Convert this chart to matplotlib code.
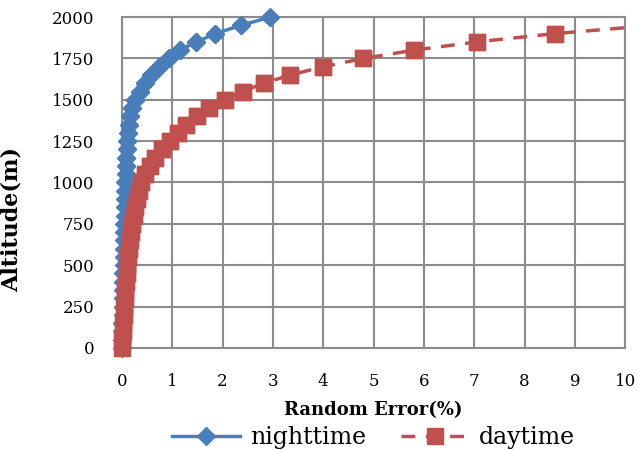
import numpy as np
import matplotlib
matplotlib.use("Agg")
import matplotlib.pyplot as plt

altitude = np.arange(0, 2001, 50)

night_error = [0.0, 0.005, 0.01, 0.01, 0.015, 0.02, 0.02, 0.025, 0.03, 0.03,
               0.035, 0.04, 0.04, 0.045, 0.05, 0.05, 0.055, 0.06, 0.065, 0.07,
               0.07, 0.08, 0.085, 0.09, 0.10, 0.11, 0.13, 0.15, 0.17, 0.21,
               0.27, 0.36, 0.45, 0.58, 0.73, 0.93, 1.15, 1.48, 1.86, 2.36,
               2.95]
day_error = [0.0, 0.01, 0.02, 0.03, 0.04, 0.05, 0.06, 0.07, 0.08, 0.10,
             0.11, 0.13, 0.14, 0.16, 0.18, 0.21, 0.24, 0.27, 0.30, 0.34,
             0.38, 0.45, 0.55, 0.66, 0.79, 0.95, 1.11, 1.28, 1.49, 1.74,
             2.04, 2.40, 2.82, 3.35, 4.00, 4.80, 5.80, 7.05, 8.60, 10.55,
             13.0]

plt.rcParams["font.family"] = ["DejaVu Serif"]

BLUE = "#4A7EBB"
RED = "#C0504D"

fig = plt.figure(figsize=(6.38, 4.5), dpi=100)
ax = fig.add_axes([0.191, 0.227, 0.789, 0.735])

ax.plot(night_error, altitude, color=BLUE, lw=2.5, marker="D",
        ms=9, mec=BLUE, label="nighttime", zorder=3)
ax.plot(day_error, altitude, color=RED, lw=2.5, ls=(0, (4, 3)),
        marker="s", ms=11, mec=RED, label="daytime", zorder=3)

# markers on the axes edges are not clipped (as in the original)
x_n = np.array(night_error)
x_d = np.array(day_error)
ax.plot(x_n, altitude, ls="none", marker="D", ms=9, color=BLUE,
        clip_on=False, zorder=4)
keep = x_d <= 10
ax.plot(x_d[keep], altitude[keep], ls="none", marker="s", ms=11,
        color=RED, clip_on=False, zorder=4)

ax.set_xlim(0, 10)
ax.set_ylim(0, 2000)
ax.set_xticks(range(0, 11))
ax.set_yticks(range(0, 2001, 250))
ax.grid(True, color="#8C8C8C", lw=1.5)
ax.set_axisbelow(True)
for s in ax.spines.values():
    s.set_color("#8C8C8C")
    s.set_linewidth(1.5)
ax.tick_params(length=0, labelsize=12, pad=20)
ax.tick_params(axis="x", pad=18)

ax.set_ylabel("Altitude(m)", fontsize=16, fontweight="bold")
ax.yaxis.set_label_coords(-0.197, 0.387)
ax.set_xlabel("Random Error(%)", fontsize=13, fontweight="bold", labelpad=8)

ax.legend(loc="upper center", bbox_to_anchor=(0.5, -0.2), ncol=2,
          frameon=False, fontsize=17, handlelength=2.9, columnspacing=1.5,
          handletextpad=0.4, borderpad=0)

fig.savefig("out.png", dpi=100, facecolor="white")
